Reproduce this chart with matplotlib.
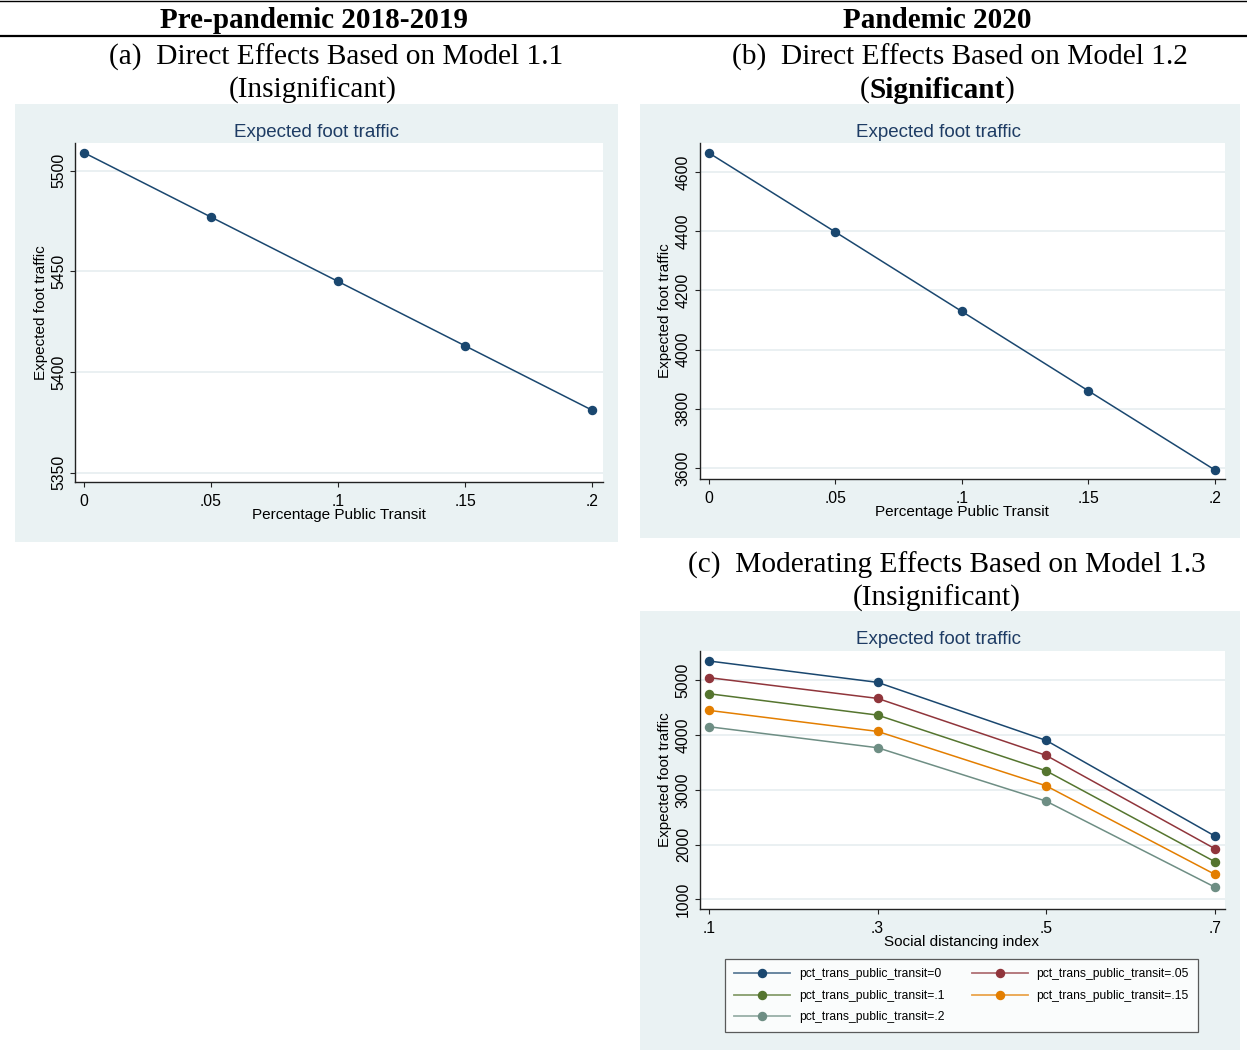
import matplotlib
matplotlib.use('Agg')
import matplotlib.pyplot as plt
from matplotlib.lines import Line2D
from matplotlib.patches import Rectangle
from matplotlib.legend_handler import HandlerTuple

# ---------------- data ----------------
transit_x = [0, 0.05, 0.1, 0.15, 0.2]
transit_ticklabels = ['0', '.05', '.1', '.15', '.2']
prepandemic_traffic = [5509, 5477, 5445, 5413, 5381]
prepandemic_yticks = [5350, 5400, 5450, 5500]
pandemic_traffic = [4664, 4397, 4129, 3861, 3594]
pandemic_yticks = [3600, 3800, 4000, 4200, 4400, 4600]

sdi_x = [0.1, 0.3, 0.5, 0.7]
sdi_ticklabels = ['.1', '.3', '.5', '.7']
moderating_yticks = [1000, 2000, 3000, 4000, 5000]
moderating_labels = ['pct_trans_public_transit=0', 'pct_trans_public_transit=.05',
                     'pct_trans_public_transit=.1', 'pct_trans_public_transit=.15',
                     'pct_trans_public_transit=.2']
traffic_t00 = [5353, 4963, 3903, 2158]
traffic_t05 = [5049, 4670, 3629, 1927]
traffic_t10 = [4755, 4365, 3347, 1689]
traffic_t15 = [4451, 4067, 3073, 1458]
traffic_t20 = [4152, 3769, 2793, 1225]
moderating_series = [traffic_t00, traffic_t05, traffic_t10, traffic_t15, traffic_t20]

# ---------------- style ----------------
W, H = 1247, 1050
BG = '#eaf2f3'
GRID = '#e6eef0'
TITLE_C = '#1e3c64'
COLORS = ['#1a476f', '#90353b', '#55752f', '#e37e00', '#6e8e84']
SANS = 'Liberation Sans'
SERIF = 'Liberation Serif'
CAP = 21.2

fig = plt.figure(figsize=(W / 100, H / 100), dpi=100)


def fx(x):
    return x / W


def fy(y):
    return 1 - y / H


def background(l, t, r, b):
    fig.add_artist(Rectangle((fx(l), fy(b)), (r - l) / W, (b - t) / H,
                             transform=fig.transFigure, facecolor=BG,
                             edgecolor='none', zorder=0))


def make_axes(l, t, r, b):
    ax = fig.add_axes([fx(l), fy(b), (r - l) / W, (b - t) / H])
    ax.set_facecolor('white')
    ax.set_zorder(2)
    for s in ['top', 'right']:
        ax.spines[s].set_visible(False)
    for s in ['left', 'bottom']:
        ax.spines[s].set_color('#222222')
        ax.spines[s].set_linewidth(1.0)
    ax.tick_params(direction='out', length=3.8, width=0.8, color='#222222',
                   labelsize=11.3)
    ax.tick_params(axis='y', pad=2.5)
    ax.tick_params(axis='x', pad=4.5)
    ax.grid(axis='y', color=GRID, lw=1.2)
    ax.set_axisbelow(True)
    return ax


def finish_axes(ax, l, t, r, b, xlabel, ylab_x, xlab_y):
    for lab in ax.get_xticklabels() + ax.get_yticklabels():
        lab.set_family(SANS)
    for lab in ax.get_yticklabels():
        lab.set_rotation(90)
        lab.set_va('center')
    ax.set_xlabel(xlabel, fontsize=11, family=SANS)
    ax.set_ylabel('Expected foot traffic', fontsize=11, family=SANS)
    ax.yaxis.label.set_va('center')
    ax.xaxis.label.set_va('center')
    ax.yaxis.set_label_coords((ylab_x - l) / (r - l), 0.5)
    ax.xaxis.set_label_coords(0.5, (b - xlab_y) / (b - t))


def title(cx, cy):
    fig.text(fx(cx), fy(cy), 'Expected foot traffic', ha='center', va='center',
             fontsize=13.5, color=TITLE_C, family=SANS)


# ---------------- header ----------------
fig.add_artist(Line2D([0, 1], [fy(1), fy(1)], transform=fig.transFigure,
                      color='black', lw=1.0))
fig.add_artist(Line2D([0, 1], [fy(36), fy(36)], transform=fig.transFigure,
                      color='black', lw=1.6))
fig.text(fx(314), fy(21), 'Pre-pandemic 2018-2019', ha='center', va='center',
         fontsize=21, fontweight='bold', family=SERIF)
fig.text(fx(937), fy(21), 'Pandemic 2020', ha='center', va='center',
         fontsize=21, fontweight='bold', family=SERIF)

fig.text(fx(336), fy(57), '(a)  Direct Effects Based on Model 1.1', ha='center',
         va='center', fontsize=CAP, family=SERIF)
fig.text(fx(313), fy(90), '(Insignificant)', ha='center', va='center',
         fontsize=CAP, family=SERIF)
fig.text(fx(960), fy(57), '(b)  Direct Effects Based on Model 1.2', ha='center',
         va='center', fontsize=CAP, family=SERIF)
fig.text(fx(947), fy(565), '(c)  Moderating Effects Based on Model 1.3', ha='center',
         va='center', fontsize=CAP, family=SERIF)
fig.text(fx(937), fy(598), '(Insignificant)', ha='center', va='center',
         fontsize=CAP, family=SERIF)

# "(Significant)" with bold word
renderer = fig.canvas.get_renderer()
sig = fig.text(fx(937), fy(90), 'Significant', ha='center', va='center',
               fontsize=CAP, fontweight='bold', family=SERIF)
bbs = sig.get_window_extent(renderer=renderer)
fig.text(bbs.x0 / fig.bbox.width, fy(90), '(', ha='right', va='center',
         fontsize=CAP, family=SERIF)
fig.text(bbs.x1 / fig.bbox.width, fy(90), ')', ha='left', va='center',
         fontsize=CAP, family=SERIF)

# ---------------- panel (a) ----------------
la, ta, ra, ba = 75, 143, 602.5, 482
background(15, 104, 618, 542)
axa = make_axes(la, ta, ra, ba)
axa.plot(transit_x, prepandemic_traffic, color=COLORS[0], lw=1.1, marker='o',
         markersize=5.8, zorder=3)
axa.set_xlim(-0.0035, 0.2041)
axa.set_ylim(5345.3, 5513.8)
axa.set_xticks(transit_x, transit_ticklabels)
axa.set_yticks(prepandemic_yticks)
finish_axes(axa, la, ta, ra, ba, 'Percentage Public Transit', 41, 515)
title(316, 132.5)

# ---------------- panel (b) ----------------
lb, tb, rb, bb_ = 699.5, 143, 1224.5, 479
background(640, 104, 1240, 538)
axb = make_axes(lb, tb, rb, bb_)
axb.plot(transit_x, pandemic_traffic, color=COLORS[0], lw=1.1, marker='o',
         markersize=5.8, zorder=3)
axb.set_xlim(-0.0038, 0.2039)
axb.set_ylim(3563, 4698)
axb.set_xticks(transit_x, transit_ticklabels)
axb.set_yticks(pandemic_yticks)
finish_axes(axb, lb, tb, rb, bb_, 'Percentage Public Transit', 665, 512)
title(939, 132.5)

# ---------------- panel (c) ----------------
lc, tc, rc, bc = 699.5, 651, 1224.5, 909
background(640, 611, 1240, 1050)
axc = make_axes(lc, tc, rc, bc)
handles = []
for ys, col in zip(moderating_series, COLORS):
    axc.plot(sdi_x, ys, color=col, lw=1.1, marker='o', markersize=5.8, zorder=3)
    hl = Line2D([], [], color=col, lw=1.3, alpha=0.7)
    hm = Line2D([], [], color=col, lw=0, marker='o', markersize=5.8)
    handles.append((hl, hm))
axc.set_xlim(0.0886, 0.7117)
axc.set_ylim(823, 5536)
axc.set_xticks(sdi_x, sdi_ticklabels)
axc.set_yticks(moderating_yticks)
finish_axes(axc, lc, tc, rc, bc, 'Social distancing index', 665, 942)
title(939, 639.5)

order = [0, 2, 4, 1, 3]
leg = fig.legend([handles[i] for i in order], [moderating_labels[i] for i in order],
                 handler_map={tuple: HandlerTuple(ndivide=1, pad=0)},
                 ncol=2, loc='upper left',
                 bbox_to_anchor=(fx(725), fy(959)),
                 prop={'family': SANS, 'size': 8.7},
                 frameon=True, fancybox=False, edgecolor='#333333',
                 handlelength=4.6, handletextpad=0.75, columnspacing=2.3,
                 labelspacing=0.8, borderpad=0.75, borderaxespad=0)
leg.get_frame().set_linewidth(0.9)
leg.get_frame().set_facecolor('white')

fig.savefig('out.png', dpi=100)
